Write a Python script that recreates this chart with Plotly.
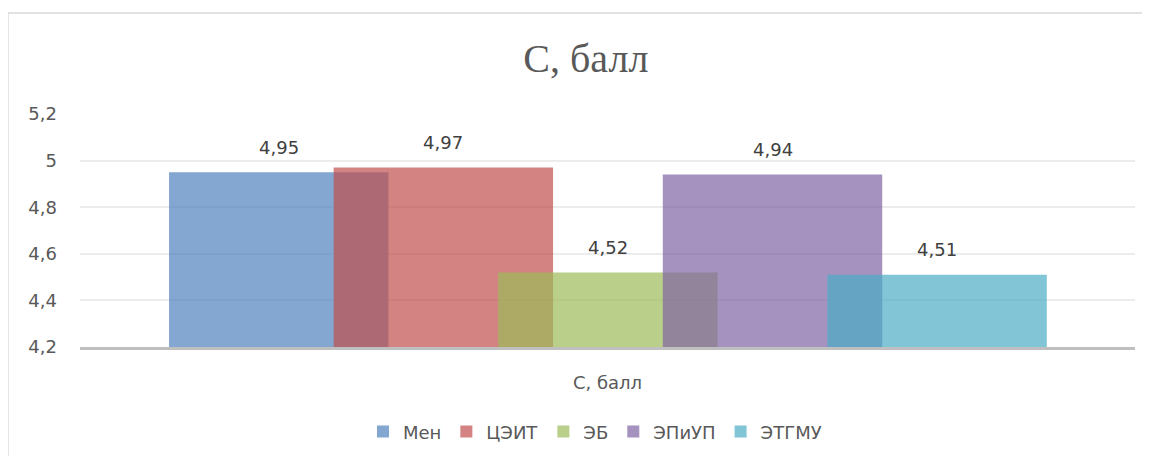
import plotly.graph_objects as go

# ---- data ----
CATEGORY = "С, балл"
SERIES = ["Мен", "ЦЭИТ", "ЭБ", "ЭПиУП", "ЭТГМУ"]
VALUES = [4.95, 4.97, 4.52, 4.94, 4.51]
COLORS = ["rgba(79,129,189,0.7)", "rgba(192,80,77,0.7)", "rgba(155,187,89,0.7)",
          "rgba(128,100,162,0.7)", "rgba(75,172,198,0.7)"]
Y_TICKS = [4.2, 4.4, 4.6, 4.8, 5.0, 5.2]

# ---- geometry (Excel-style overlapping columns) ----
BAR_W = 0.208
STEP = 0.156
START = -0.4156

FONT = "DejaVu Sans"

fig = go.Figure()

for i, (name, val, col) in enumerate(zip(SERIES, VALUES, COLORS)):
    off = START + i * STEP
    fig.add_trace(go.Bar(
        x=[CATEGORY], y=[val], name=name,
        width=BAR_W, offset=off,
        marker=dict(color=col, line=dict(width=0)),
    ))
    fig.add_annotation(
        x=off + BAR_W / 2, y=val, xref="x", yref="y",
        text=f"{val:.2f}".replace(".", ","),
        showarrow=False, yanchor="middle", yshift=25,
        font=dict(family=FONT, size=18, color="#404040"),
    )

# chart border: only the left and top edges are inside the picture
border = dict(color="#d9d9d9", width=1.5)
fig.add_shape(type="line", xref="paper", yref="paper",
              x0=-0.0683, x1=-0.0683, y0=-0.7, y1=1.4335, line=border, layer="below")
fig.add_shape(type="line", xref="paper", yref="paper",
              x0=-0.0683, x1=1.3, y0=1.4335, y1=1.4335, line=border, layer="below")

# page body has an 8px margin -> figure a bit smaller so nothing scrolls
fig.update_layout(
    width=1142, height=448,
    barmode="overlay",
    separators=", ",
    paper_bgcolor="white", plot_bgcolor="white",
    margin=dict(l=72, r=15, t=106, b=109),
    title=dict(
        text="С, балл", x=0.506, xref="container", xanchor="center",
        y=0.888, yref="container", yanchor="middle",
        font=dict(family="Liberation Serif", size=40, color="#595959"),
    ),
    xaxis=dict(
        type="category", range=[-0.5, 0.5],
        showline=True, linecolor="#bfbfbf", linewidth=2.5,
        showgrid=False, ticks="", ticklabelstandoff=18,
        tickfont=dict(family=FONT, size=18, color="#595959"),
    ),
    yaxis=dict(
        range=[4.2, 5.2], tickvals=Y_TICKS,
        showgrid=True, gridcolor="#ececec", gridwidth=1.5,
        zeroline=False, showline=False, ticks="",
        ticklabelstandoff=22,
        tickfont=dict(family=FONT, size=18, color="#595959"),
    ),
    legend=dict(
        orientation="h", xref="container", x=0.514, xanchor="center",
        yref="container", y=0.054, yanchor="middle",
        font=dict(family=FONT, size=18, color="#595959"),
        itemwidth=30, traceorder="normal",
    ),
    showlegend=True,
)

fig.write_html("out.html")
